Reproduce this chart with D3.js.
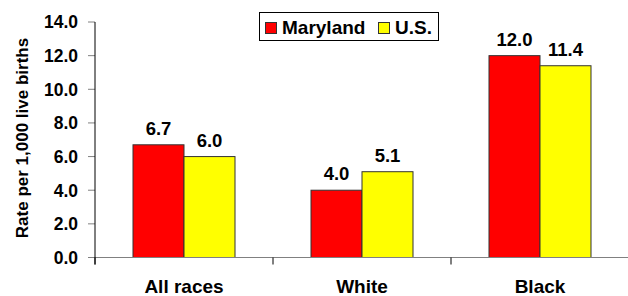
<!DOCTYPE html>
<html>
<head>
<meta charset="utf-8">
<script src="https://cdn.jsdelivr.net/npm/d3@7"></script>
<style>
  html, body { margin: 0; padding: 0; background: #fff; }
  svg { display: block; font-family: "Liberation Sans", Arial, sans-serif; font-weight: bold; }
</style>
</head>
<body>
<div id="chart"></div>
<script>
const categories = ["All races", "White", "Black"];
const seriesNames = ["Maryland", "U.S."];
const marylandValues = [6.7, 4.0, 12.0];
const usValues = [6.0, 5.1, 11.4];
const yTicks = [0, 2, 4, 6, 8, 10, 12, 14];
const colors = ["#ff0000", "#ffff00"];

const width = 628, height = 296;
const plotLeft = 95, plotRight = 629, plotTop = 22, plotBottom = 257.5;

const svg = d3.select("#chart").append("svg")
  .attr("width", width)
  .attr("height", height);

const x = d3.scaleBand().domain(categories).range([plotLeft, plotRight]).padding(0);
const xSub = d3.scaleBand().domain(seriesNames).range([0, x.bandwidth()]).paddingInner(0).paddingOuter(0.745);
const y = d3.scaleLinear().domain([0, 14]).range([plotBottom, plotTop]);

const rows = categories.map((c, i) => ({
  cat: c,
  vals: [
    { name: seriesNames[0], value: marylandValues[i], color: colors[0] },
    { name: seriesNames[1], value: usValues[i], color: colors[1] }
  ]
}));

// y ticks + labels
svg.selectAll("line.ytick")
  .data(yTicks)
  .enter().append("line")
  .attr("x1", plotLeft - 7).attr("x2", plotLeft)
  .attr("y1", d => y(d)).attr("y2", d => y(d))
  .attr("stroke", "#808080");

svg.selectAll("text.ylab")
  .data(yTicks)
  .enter().append("text")
  .attr("x", 78)
  .attr("y", d => y(d))
  .attr("dy", "0.36em")
  .attr("text-anchor", "end")
  .style("font-size", "17.5px")
  .text(d => d3.format(".1f")(d));

// bars
const groups = svg.selectAll("g.cat")
  .data(rows)
  .enter().append("g")
  .attr("transform", d => `translate(${x(d.cat)},0)`);

groups.selectAll("rect")
  .data(d => d.vals)
  .enter().append("rect")
  .attr("x", d => xSub(d.name))
  .attr("width", xSub.bandwidth())
  .attr("y", d => y(d.value))
  .attr("height", d => y(0) - y(d.value))
  .attr("fill", d => d.color)
  .attr("stroke", "#333")
  .attr("stroke-width", 1);

groups.selectAll("text")
  .data(d => d.vals)
  .enter().append("text")
  .attr("x", d => xSub(d.name) + xSub.bandwidth() / 2)
  .attr("y", d => y(d.value) - 10)
  .attr("text-anchor", "middle")
  .style("font-size", "18.5px")
  .text(d => d3.format(".1f")(d.value));

// axes lines
svg.append("line")
  .attr("x1", plotLeft).attr("x2", plotRight)
  .attr("y1", plotBottom).attr("y2", plotBottom)
  .attr("stroke", "#808080");

svg.selectAll("line.xtick")
  .data(d3.range(categories.length + 1))
  .enter().append("line")
  .attr("x1", i => plotLeft + i * x.step()).attr("x2", i => plotLeft + i * x.step())
  .attr("y1", plotBottom).attr("y2", plotBottom + 7)
  .attr("stroke", "#000");

svg.append("line")
  .attr("x1", plotLeft).attr("x2", plotLeft)
  .attr("y1", plotTop).attr("y2", plotBottom + 7)
  .attr("stroke", "#000");

// category labels
svg.selectAll("text.cat")
  .data(categories)
  .enter().append("text")
  .attr("x", d => x(d) + x.bandwidth() / 2)
  .attr("y", 293)
  .attr("text-anchor", "middle")
  .style("font-size", "19px")
  .text(d => d);

// y title
svg.append("text")
  .attr("transform", "translate(28,138) rotate(-90)")
  .attr("text-anchor", "middle")
  .style("font-size", "17px")
  .text("Rate per 1,000 live births");

// legend
const legend = svg.append("g");
legend.append("rect")
  .attr("x", 259.5).attr("y", 12.5)
  .attr("width", 179).attr("height", 28)
  .attr("fill", "#fff").attr("stroke", "#000");

const legendX = [265, 378];
seriesNames.forEach((name, i) => {
  legend.append("rect")
    .attr("x", legendX[i] + 0.5).attr("y", 22.5)
    .attr("width", 11).attr("height", 11)
    .attr("fill", colors[i]).attr("stroke", "#333");
  legend.append("text")
    .attr("x", legendX[i] + 17)
    .attr("y", 34)
    .style("font-size", "19px")
    .text(name);
});
</script>
</body>
</html>
